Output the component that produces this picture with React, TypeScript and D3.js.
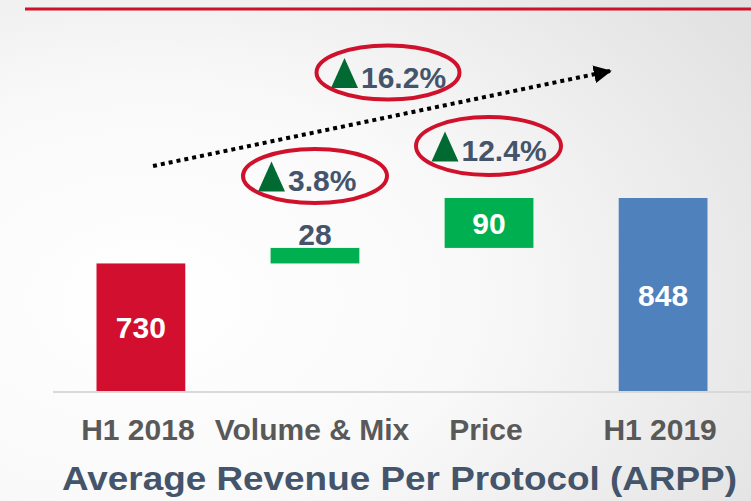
import React from "react";
import * as d3 from "d3";

const categories = ["H1 2018", "Volume & Mix", "Price", "H1 2019"];
const deltas = [730, 28, 90, 848];
const kinds = ["total", "delta", "delta", "total"];
const barColors = ["#D20F2E", "#00B050", "#00B050", "#4F81BD"];
const growthLabels = ["3.8%", "12.4%", "16.2%"];
const titleText = "Average Revenue Per Protocol (ARPP)";

const W = 751;
const H = 501;

export default function App() {
  const x = d3.scaleBand().domain(categories).range([53, 751]).paddingInner(0.49).paddingOuter(0.25);
  const y = d3.scaleLinear().domain([500, 848]).range([391, 198]);

  let running = 0;
  const bars = categories.map((c, i) => {
    let lo: number, hi: number;
    if (kinds[i] === "total") {
      lo = 500;
      hi = deltas[i];
      running = deltas[i];
    } else {
      lo = running;
      hi = running + deltas[i];
      running = hi;
    }
    return { c, lo, hi, v: deltas[i], color: barColors[i], kind: kinds[i] };
  });

  const font = "'Liberation Sans', Arial, sans-serif";
  const slate = "#44546A";
  const red = "#D0112B";
  const dgreen = "#006A32";

  const callouts = [
    { label: growthLabels[0], cx: 315, cy: 176, rx: 72, ry: 27 },
    { label: growthLabels[1], cx: 488.5, cy: 146, rx: 72.5, ry: 29 },
    { label: growthLabels[2], cx: 388, cy: 72.5, rx: 71.5, ry: 27 },
  ];

  return (
    <svg width={W} height={H} style={{ position: "absolute", left: 0, top: 0 }}>
      <defs>
        <radialGradient id="bg" cx="0.2" cy="0.6" r="0.95">
          <stop offset="0" stopColor="#FFFFFF" />
          <stop offset="0.45" stopColor="#F9F9F9" />
          <stop offset="1" stopColor="#E2E2E2" />
        </radialGradient>
        <marker id="arrow" viewBox="0 0 10 10" refX="9" refY="5" markerWidth="4.5" markerHeight="4.5" orient="auto" markerUnits="strokeWidth">
          <path d="M0,0 L10,5 L0,10 Z" fill="#000" />
        </marker>
      </defs>
      <rect x={0} y={0} width={W} height={H} fill="url(#bg)" />
      <line x1={25} x2={W} y1={9} y2={9} stroke="#D0112B" strokeWidth={3} />

      <line x1={53} x2={W} y1={392} y2={392} stroke="#D9D9D9" strokeWidth={2} />

      {bars.map((b) => (
        <rect key={b.c} x={x(b.c)} y={y(b.hi)} width={x.bandwidth()} height={y(b.lo) - y(b.hi)} fill={b.color} />
      ))}

      {bars.map((b) => {
        const cx = (x(b.c) as number) + x.bandwidth() / 2;
        const inside = y(b.lo) - y(b.hi) > 40;
        const ty = inside ? (y(b.hi) + y(b.lo)) / 2 + 11 : y(b.hi) - 3;
        return (
          <text
            key={"v" + b.c}
            x={cx}
            y={ty}
            textAnchor="middle"
            fontFamily={font}
            fontWeight="bold"
            fontSize={30}
            fill={inside ? "#FFFFFF" : slate}
          >
            {b.v}
          </text>
        );
      })}

      <line x1={153} y1={166} x2={610} y2={71} stroke="#000" strokeWidth={4} strokeDasharray="4 4" markerEnd="url(#arrow)" />

      {callouts.map((c) => {
        const tw = 27;
        const left = c.cx - 57;
        const base = c.cy + 15;
        return (
          <g key={c.label}>
            <ellipse cx={c.cx} cy={c.cy} rx={c.rx} ry={c.ry} fill="none" stroke={red} strokeWidth={4} />
            <path d={`M${left},${base + 0.5} L${left + tw},${base + 0.5} L${left + tw / 2},${base - 29.5} Z`} fill={dgreen} />
            <text x={left + tw + 3} y={base} fontFamily={font} fontWeight="bold" fontSize={30} fill={slate}>
              {c.label}
            </text>
          </g>
        );
      })}

      {categories.map((c) => (
        <text
          key={"c" + c}
          x={(x(c) as number) + x.bandwidth() / 2 - 3}
          y={440}
          textAnchor="middle"
          fontFamily={font}
          fontWeight="bold"
          fontSize={30}
          fill="#595959"
        >
          {c}
        </text>
      ))}

      <text x={399.5} y={490} textAnchor="middle" fontFamily={font} fontWeight="bold" fontSize={33} fill={slate} textLength={675} lengthAdjust="spacingAndGlyphs">
        {titleText}
      </text>
    </svg>
  );
}
